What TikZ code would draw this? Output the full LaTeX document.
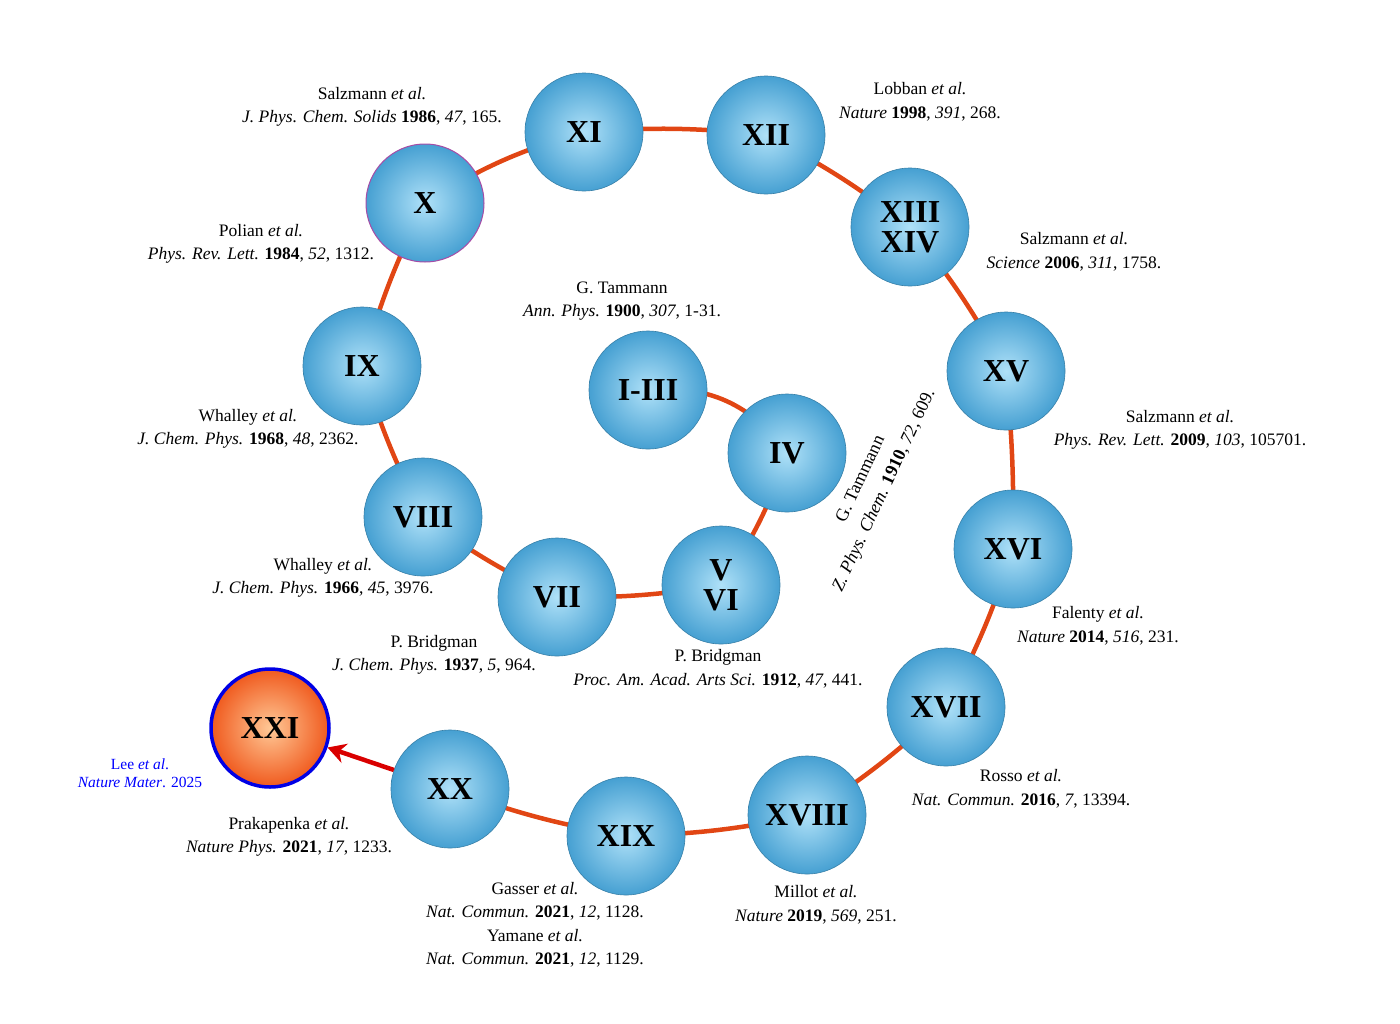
\documentclass[tikz,border=0pt]{standalone}
\usepackage{fontspec}
\setmainfont{Liberation Serif}
\usetikzlibrary{arrows.meta}
\definecolor{bin}{RGB}{175,225,248}
\definecolor{bout}{RGB}{70,160,210}
\definecolor{oin}{RGB}{255,200,150}
\definecolor{oout}{RGB}{240,90,30}
\definecolor{lk}{RGB}{225,70,20}
\begin{document}
\begin{tikzpicture}[x=1pt,y=-1pt,
 ball/.style={circle,minimum size=118pt,inner sep=0pt,shading=radial,inner color=bin,outer color=bout,draw=bout!80!black,line width=0.6pt,font=\fontsize{32}{32}\selectfont\bfseries,align=center},
 lnk/.style={draw=lk,line width=4.5pt},
 ref/.style={font=\fontsize{17.5}{23.5}\selectfont,align=center,inner sep=0pt}]
\useasboundingbox (0,0) rectangle (1400,1023);
\coordinate (cXI) at (584,132); \coordinate (cXII) at (766,135);
\coordinate (cXIII) at (910,227); \coordinate (cX) at (425,203);
\coordinate (cIX) at (362,366); \coordinate (cI) at (648,390);
\coordinate (cIV) at (787,453); \coordinate (cXV) at (1006,371);
\coordinate (cVIII) at (423,517); \coordinate (cXVI) at (1013,549);
\coordinate (cVII) at (557,597); \coordinate (cV) at (721,585);
\coordinate (cXVII) at (946,707); \coordinate (cXX) at (450,789);
\coordinate (cXIX) at (626,836); \coordinate (cXVIII) at (807,815);
\draw[lnk] (cX) to[bend left=8] (cXI);
\draw[lnk] (cXI) to[bend left=5] (cXII);
\draw[lnk] (cXII) to[bend left=5] (cXIII);
\draw[lnk] (cXIII) to[bend left=5] (cXV);
\draw[lnk] (cXV) to[bend left=3] (cXVI);
\draw[lnk] (cXVI) to[bend left=5] (cXVII);
\draw[lnk] (cXVII) to[bend left=5] (cXVIII);
\draw[lnk] (cXVIII) to[bend left=5] (cXIX);
\draw[lnk] (cXIX) to[bend left=5] (cXX);
\draw[lnk] (cX) to[bend right=5] (cIX);
\draw[lnk] (cIX) to[bend right=5] (cVIII);
\draw[lnk] (cVIII) to[bend right=5] (cVII);
\draw[lnk] (cVII) to[bend right=5] (cV);
\draw[lnk] (cV) to[bend right=8] (cIV);
\draw[lnk] (cIV) to[bend right=30] (cI);
\node[ball] (XI) at (cXI) {XI};
\node[ball] (XII) at (cXII) {XII};
\node[ball] (XIII) at (cXIII) {XIII\\[-2pt]XIV};
\node[ball,draw=violet!70,line width=1pt] (X) at (cX) {X};
\node[ball] (IX) at (cIX) {IX};
\node[ball] (I) at (cI) {I-III};
\node[ball] (IV) at (cIV) {IV};
\node[ball] (XV) at (cXV) {XV};
\node[ball] (VIII) at (cVIII) {VIII};
\node[ball] (XVI) at (cXVI) {XVI};
\node[ball] (VII) at (cVII) {VII};
\node[ball] (V) at (cV) {V\\[-2pt]VI};
\node[ball] (XVII) at (cXVII) {XVII};
\node[ball] (XX) at (cXX) {XX};
\node[ball] (XIX) at (cXIX) {XIX};
\node[ball] (XVIII) at (cXVIII) {XVIII};
\node[ball,inner color=oin,outer color=oout,draw=blue!90!black,line width=3.5pt] (XXI) at (270,728) {XXI};
\draw[draw=red!85!black,line width=4.5pt,-{Stealth[length=18pt,width=20pt]}] (XX) -- (XXI);
\node[ref] (r1) at (372,107) {Salzmann \textit{et al.}\\\textit{J. Phys. Chem. Solids} \textbf{1986}, \textit{47}, 165.};
\node[ref] (r2) at (920,102) {Lobban \textit{et al.}\\\textit{Nature} \textbf{1998}, \textit{391}, 268.};
\node[ref] (r3) at (1074,252) {Salzmann \textit{et al.}\\\textit{Science} \textbf{2006}, \textit{311}, 1758.};
\node[ref] (r4) at (261,244) {Polian \textit{et al.}\\\textit{Phys. Rev. Lett.} \textbf{1984}, \textit{52}, 1312.};
\node[ref] (r5) at (622,301) {G. Tammann\\\textit{Ann. Phys.} \textbf{1900}, \textit{307}, 1-31.};
\node[ref] (r6) at (1180,430) {Salzmann \textit{et al.}\\\textit{Phys. Rev. Lett.} \textbf{2009}, \textit{103}, 105701.};
\node[ref] (r7) at (248,429) {Whalley \textit{et al.}\\\textit{J. Chem. Phys.} \textbf{1968}, \textit{48}, 2362.};
\node[ref] (r8) at (323,578) {Whalley \textit{et al.}\\\textit{J. Chem. Phys.} \textbf{1966}, \textit{45}, 3976.};
\node[ref] (r9) at (1098,626) {Falenty \textit{et al.}\\\textit{Nature} \textbf{2014}, \textit{516}, 231.};
\node[ref] (r10) at (434,655) {P. Bridgman\\\textit{J. Chem. Phys.} \textbf{1937}, \textit{5}, 964.};
\node[ref] (r11) at (718,669) {P. Bridgman\\\textit{Proc. Am. Acad. Arts Sci.} \textbf{1912}, \textit{47}, 441.};
\node[ref] (r12) at (1021,789) {Rosso \textit{et al.}\\\textit{Nat. Commun.} \textbf{2016}, \textit{7}, 13394.};
\node[ref,font=\fontsize{15.5}{18}\selectfont,text=blue] (r13) at (140,773) {Lee \textit{et al}.\\\textit{Nature Mater}. 2025};
\node[ref] (r14) at (289,837) {Prakapenka \textit{et al.}\\\textit{Nature Phys.} \textbf{2021}, \textit{17}, 1233.};
\node[ref] (r15) at (816,905) {Millot \textit{et al.}\\\textit{Nature} \textbf{2019}, \textit{569}, 251.};
\node[ref] (r16) at (535,925) {Gasser \textit{et al.}\\\textit{Nat. Commun.} \textbf{2021}, \textit{12}, 1128.\\Yamane \textit{et al.}\\\textit{Nat. Commun.} \textbf{2021}, \textit{12}, 1129.};
\node[ref,rotate=65,font=\fontsize{18}{26}\selectfont] (r17) at (873,485) {G. Tammann\\\textit{Z. Phys. Chem.} \textbf{1910}, \textit{72}, 609.};
\end{tikzpicture}
\end{document}
